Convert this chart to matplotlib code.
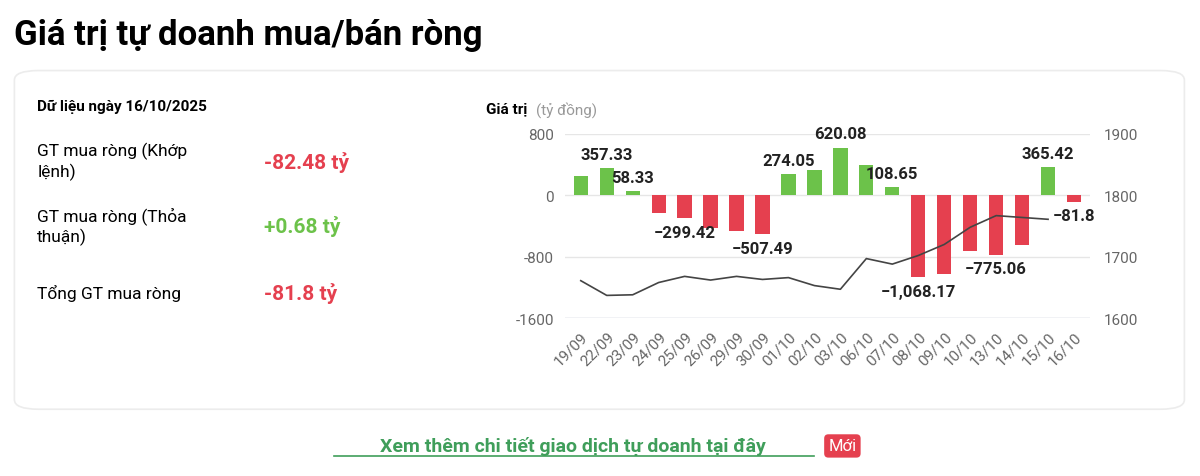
import numpy as np
import matplotlib.pyplot as plt
from matplotlib.patches import FancyBboxPatch

dates = ['19/09', '22/09', '23/09', '24/09', '25/09', '26/09', '29/09', '30/09', '01/10', '02/10',
         '03/10', '06/10', '07/10', '08/10', '09/10', '10/10', '13/10', '14/10', '15/10', '16/10']
net_value = [250, 357.33, 58.33, -230, -299.42, -420, -460, -507.49, 274.05, 330,
             620.08, 400, 108.65, -1068.17, -1020, -730, -775.06, -650, 365.42, -81.8]
index_line = [1661, 1637, 1638, 1658, 1668, 1662, 1668, 1663, 1666, 1653,
              1647, 1697, 1688, 1702, 1720, 1748, 1767, 1764, 1761]
labeled = ['22/09', '23/09', '25/09', '30/09', '01/10', '03/10', '07/10', '08/10', '13/10', '15/10', '16/10']

plt.rcParams['font.family'] = ['Roboto', 'DejaVu Sans']
fig = plt.figure(figsize=(12, 4.77), dpi=100)
fig.patch.set_facecolor('white')

# card (behind everything)
card = FancyBboxPatch((0.012, 0.14), 0.975, 0.71, boxstyle='round,pad=0,rounding_size=0.02',
                      transform=fig.transFigure, facecolor='white', edgecolor='#ececec', lw=1.2, zorder=-5)
fig.patches.append(card)

fig.text(0.012, 0.925, 'Giá trị tự doanh mua/bán ròng', fontsize=25, fontweight='bold', va='center')
fig.text(0.031, 0.775, 'Dữ liệu ngày 16/10/2025', fontsize=11, fontweight='bold', va='center')
fig.text(0.031, 0.66, 'GT mua ròng (Khớp\nlệnh)', fontsize=12.5, va='center', linespacing=1.3)
fig.text(0.22, 0.66, '-82.48 tỷ', fontsize=15, fontweight='bold', color='#e5404f', va='center')
fig.text(0.031, 0.525, 'GT mua ròng (Thỏa\nthuận)', fontsize=12.5, va='center', linespacing=1.3)
fig.text(0.22, 0.525, '+0.68 tỷ', fontsize=15, fontweight='bold', color='#6cc24a', va='center')
fig.text(0.031, 0.385, 'Tổng GT mua ròng', fontsize=12.5, va='center')
fig.text(0.22, 0.385, '-81.8 tỷ', fontsize=15, fontweight='bold', color='#e5404f', va='center')

fig.text(0.405, 0.77, 'Giá trị', fontsize=11, fontweight='bold', va='center')
fig.text(0.447, 0.77, '(tỷ đồng)', fontsize=11, color='#999999', va='center')

ax = fig.add_axes([0.471, 0.331, 0.437, 0.386])
x = np.arange(len(dates))
colors = ['#6cc24a' if v >= 0 else '#e5404f' for v in net_value]
ax.bar(x, net_value, width=0.55, color=colors, zorder=2)
ax.set_ylim(-1600, 800)
ax.set_yticks([-1600, -800, 0, 800])
ax.set_yticklabels(['-1600', '-800', '0', '800'])
ax.set_xlim(-0.6, len(dates) - 0.4)
ax.set_xticks(x)
ax.set_xticklabels(dates, rotation=45, ha='right', rotation_mode='anchor')
ax.grid(axis='y', color='#e6e6e6', lw=1, zorder=0)
for s in ax.spines.values():
    s.set_visible(False)
ax.axhline(-1600, color='#c8d4e4', lw=1, zorder=1)
ax.tick_params(length=0, labelsize=11, labelcolor='#666666', pad=8)

ax2 = ax.twinx()
ax2.plot(x[:len(index_line)], index_line, color='#444444', lw=1.2, zorder=3)
ax2.set_ylim(1600, 1900)
ax2.set_yticks([1600, 1700, 1800, 1900])
for s in ax2.spines.values():
    s.set_visible(False)
ax2.tick_params(length=0, labelsize=11, labelcolor='#666666', pad=10)

for i, (d, v) in enumerate(zip(dates, net_value)):
    if d in labeled:
        txt = f'{v:,.1f}' if d == '16/10' else f'{v:,.2f}'
        txt = txt.replace('-', '−')
        off = 14 if v >= 0 else -14
        ax2.annotate(txt, (i, 0), xycoords=('data', 'axes fraction'), xytext=(0, 0),
                     textcoords='offset points', alpha=0) if False else None
        ax.annotate(txt, (i, v), xytext=(0, off), textcoords='offset points',
                    ha='center', va='center', fontsize=12, fontweight='bold', color='#222222',
                    zorder=5, annotation_clip=False)

# keep value labels above the line axis
for t in ax.texts:
    t.remove()
for i, (d, v) in enumerate(zip(dates, net_value)):
    if d in labeled:
        txt = f'{v:,.1f}' if d == '16/10' else f'{v:,.2f}'
        txt = txt.replace('-', '−')
        y = v + (180 if v >= 0 else -180)
        ax2.text(i, 1600 + (y + 1600) / 8, txt, ha='center', va='center', fontsize=12,
                 fontweight='bold', color='#222222', zorder=5)

fig.text(0.4775, 0.063, 'Xem thêm chi tiết giao dịch tự doanh tại đây', fontsize=14, fontweight='bold',
         color='#3f9e5a', ha='center', va='center')
fig.add_artist(plt.Line2D([0.278, 0.678], [0.042, 0.042], color='#3f9e5a', lw=1.2))
fig.text(0.702, 0.063, 'Mới', fontsize=12, color='white', ha='center', va='center',
         bbox=dict(boxstyle='round,pad=0.25', fc='#e5404f', ec='none'))

fig.savefig('out.png', dpi=100)
